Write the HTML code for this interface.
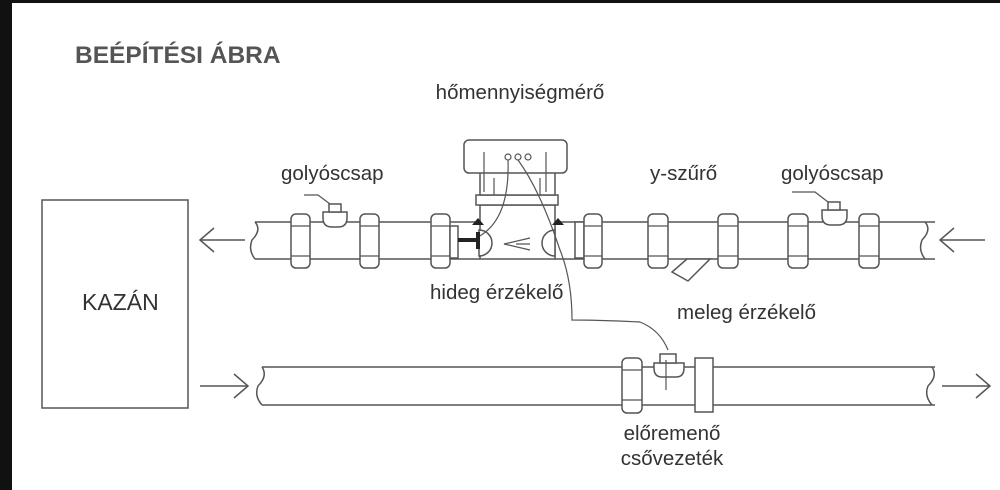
<!DOCTYPE html>
<html><head><meta charset="utf-8"><style>
html,body{margin:0;padding:0;background:#fff}
svg{display:block}
text{font-family:"Liberation Sans",sans-serif;fill:#333}
</style></head><body>
<svg width="1000" height="490" viewBox="0 0 1000 490" xmlns="http://www.w3.org/2000/svg">
<rect width="1000" height="490" fill="#fff"/>
<rect x="0" y="0" width="12" height="490" fill="#111"/>
<rect x="0" y="0" width="1000" height="3" fill="#111"/>
<text x="75" y="63" font-size="24.5" font-weight="bold" style="fill:#555">BEÉPÍTÉSI ÁBRA</text>
<text x="520" y="99" font-size="20.5" text-anchor="middle">hőmennyiségmérő</text>
<text x="281" y="180" font-size="20.5">golyóscsap</text>
<text x="650" y="180" font-size="20.5">y-szűrő</text>
<text x="781" y="180" font-size="20.5">golyóscsap</text>
<text x="430" y="299" font-size="20.5">hideg érzékelő</text>
<text x="677" y="319" font-size="20.5">meleg érzékelő</text>
<text x="82" y="310" font-size="23">KAZÁN</text>
<text x="672" y="440" font-size="20.5" text-anchor="middle">előremenő</text>
<text x="672" y="465" font-size="20.5" text-anchor="middle">csővezeték</text>

<g fill="none" stroke="#555" stroke-width="1.5">
<rect x="42" y="200" width="146" height="208"/>
<path d="M200 240H245M214 228L200 240L214 252"/>
<path d="M940 240H985M954 228L940 240L954 252"/>
<path d="M200 386H248M234 374L248 386L234 398"/>
<path d="M942 386H990M976 374L990 386L976 398"/>
<path d="M255 222H480M555 222H935M255 259H480M555 259H935"/>
<path d="M255 222Q262 230 252 240Q248 250 255 259"/>
<path d="M925 222Q932 230 922 240Q918 250 925 259"/>
<path d="M262 367H935M262 405H935"/>
<path d="M262 367Q268 376 258 386Q254 396 262 405"/>
<path d="M932 367Q938 376 928 386Q924 396 932 405"/>
</g>
<g fill="#fff" stroke="#555" stroke-width="1.5">
<rect x="291" y="214" width="19" height="54" rx="5"/>
<rect x="360" y="214" width="19" height="54" rx="5"/>
<rect x="431" y="214" width="19" height="54" rx="5"/>
<rect x="450" y="226" width="8" height="32"/>
<rect x="575" y="222" width="9" height="36"/>
<rect x="584" y="214" width="18" height="54" rx="5"/>
<rect x="648" y="214" width="20" height="54" rx="5"/>
<rect x="718" y="214" width="20" height="54" rx="5"/>
<rect x="788" y="214" width="20" height="54" rx="5"/>
<rect x="859" y="214" width="20" height="54" rx="5"/>
<path d="M323 212H347V218Q347 227 338 227H332Q323 227 323 218Z"/>
<rect x="329" y="204" width="12" height="8"/>
<path d="M822 210H847V216Q847 225 838 225H831Q822 225 822 216Z"/>
<rect x="828" y="202" width="12" height="8"/>
<path d="M687 259L710 259L688 281L672 272Z"/>
<rect x="480" y="205" width="75" height="54"/>
<rect x="476" y="195" width="82" height="10"/>
<rect x="480" y="172" width="75" height="23"/>
<rect x="464" y="140" width="103" height="33" rx="5"/>
<path d="M479 230A13 13 0 0 1 479 256Z"/>
<path d="M555 230A13 13 0 0 0 555 256Z"/>
<rect x="622" y="358" width="20" height="55" rx="5"/>
<rect x="695" y="358" width="18" height="54"/>
<path d="M654 363H684V368Q684 377 676 377H662Q654 377 654 368Z"/>
<rect x="660" y="354" width="16" height="9"/>
</g>
<g fill="none" stroke="#555" stroke-width="1.2">
<path d="M291 226H310M291 256H310M360 226H379M360 256H379M431 226H450M431 256H450M584 226H602M584 256H602M648 226H668M648 256H668M718 226H738M718 256H738M788 226H808M788 256H808M859 226H879M859 256H879M622 370H642M622 400H642"/>
<path d="M494 178V195M540 178V195M484 152V192M546 152V192"/>
<circle cx="508" cy="157" r="3"/><circle cx="518" cy="157" r="3"/><circle cx="528" cy="157" r="3"/>
<path d="M508 160Q510 220 478 237"/>
<path d="M518 160Q540 190 560 250Q572 280 572 320Q600 320 640 322Q660 330 668 350"/>
<path d="M666 360V390"/>
<path d="M304 195H318L330 204"/>
<path d="M792 192H815L828 202"/>
<path d="M530 238L504 244L530 250M516 244L530 244"/>
</g>
<path d="M458 240H478M478 232V249" stroke="#222" stroke-width="4" fill="none"/>
<path d="M472 225L478 218L484 225Z" fill="#222"/>
<path d="M552 225L558 218L564 225Z" fill="#222"/>
</svg>
</body></html>
